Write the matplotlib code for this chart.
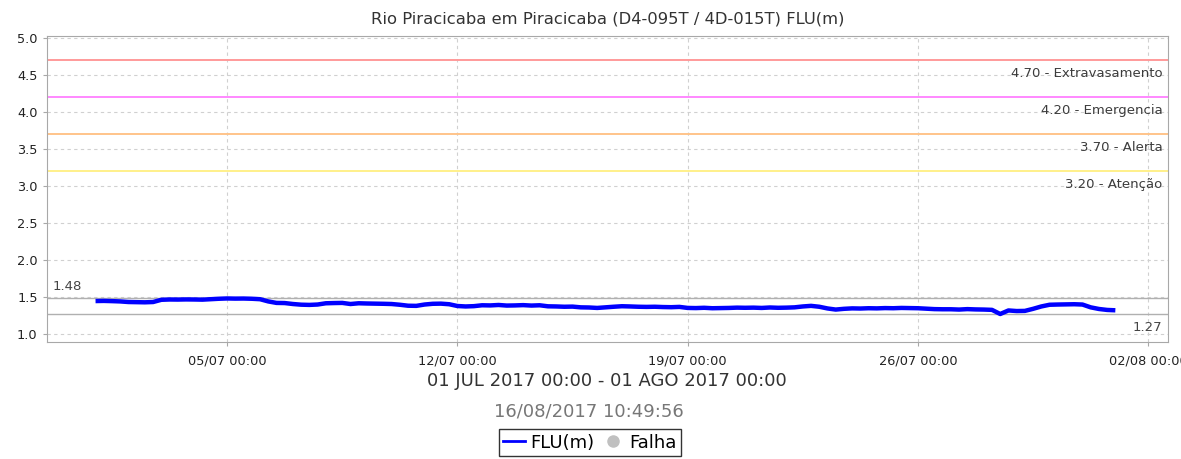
import numpy as np
import pandas as pd
import matplotlib
matplotlib.use('Agg')
import matplotlib.pyplot as plt
import matplotlib.dates as mdates
from matplotlib.lines import Line2D

# Nivel (FLU, m) a cada 6 horas, de 01/07/2017 00:00 a 01/08/2017 00:00
flu = [
    1.445, 1.447, 1.444, 1.440,  # 01/07
    1.432, 1.430, 1.428, 1.432,
    1.462, 1.466, 1.465, 1.467,
    1.466, 1.464, 1.470, 1.476,
    1.480, 1.478, 1.479, 1.476,  # 05/07
    1.470, 1.440, 1.420, 1.418,
    1.405, 1.396, 1.393, 1.398,
    1.415, 1.418, 1.420, 1.405,
    1.415, 1.412, 1.410, 1.408,
    1.405, 1.395, 1.382, 1.380,  # 10/07
    1.398, 1.408, 1.410, 1.402,
    1.378, 1.372, 1.376, 1.388,
    1.386, 1.392, 1.384, 1.386,
    1.390, 1.384, 1.388, 1.374,
    1.372, 1.368, 1.370, 1.360,  # 15/07
    1.358, 1.352, 1.360, 1.368,
    1.375, 1.372, 1.368, 1.366,
    1.368, 1.364, 1.362, 1.366,
    1.352, 1.350, 1.354, 1.348,
    1.350, 1.352, 1.356, 1.354,  # 20/07
    1.356, 1.352, 1.358, 1.354,
    1.356, 1.360, 1.372, 1.380,
    1.368, 1.345, 1.330, 1.340,
    1.346, 1.344, 1.348, 1.346,
    1.350, 1.348, 1.352, 1.350,  # 25/07
    1.348, 1.342, 1.336, 1.334,
    1.334, 1.330, 1.336, 1.332,
    1.330, 1.326, 1.270, 1.318,
    1.310, 1.312, 1.340, 1.372,
    1.395, 1.398, 1.400, 1.402,  # 30/07
    1.398, 1.360, 1.338, 1.325,
    1.320,                       # 01/08 00:00
]
tempo = pd.date_range('2017-07-01 00:00', periods=len(flu), freq='6h')

# Marcas do eixo de tempo
marcas = pd.to_datetime(['2017-07-05', '2017-07-12', '2017-07-19', '2017-07-26', '2017-08-02'])

# Cotas de referencia
cotas = [4.70, 4.20, 3.70, 3.20]
cotas_nome = ['Extravasamento', 'Emergencia', 'Alerta', 'Atenção']
cotas_cor = ['#ff9a9a', '#ff88ff', '#ffc48a', '#fff08a']

v_max = 1.48
v_min = 1.27

titulo = 'Rio Piracicaba em Piracicaba (D4-095T / 4D-015T) FLU(m)'
periodo = '01 JUL 2017 00:00 - 01 AGO 2017 00:00'
gerado = '16/08/2017 10:49:56'

fig = plt.figure(figsize=(11.81, 4.59), dpi=100)
ax = fig.add_axes([0.0395, 0.2556, 0.9495, 0.666])

x0 = pd.Timestamp('2017-06-29 12:20')
x1 = pd.Timestamp('2017-08-02 14:25')

for c, nome, cor in zip(cotas, cotas_nome, cotas_cor):
    ax.axhline(c, color=cor, lw=1.4, zorder=2)
    ax.annotate('%.2f - %s' % (c, nome), xy=(1, c), xycoords=('axes fraction', 'data'),
                xytext=(-4, -5), textcoords='offset points', ha='right', va='top',
                fontsize=9.5, color='#3c3c3c')

ax.axhline(v_max, color='#b0b0b0', lw=1.0, zorder=2)
ax.axhline(v_min, color='#b0b0b0', lw=1.0, zorder=2)
ax.annotate('%.2f' % v_max, xy=(0, v_max), xycoords=('axes fraction', 'data'),
            xytext=(4, 4), textcoords='offset points', ha='left', va='bottom',
            fontsize=9.5, color='#444444')
ax.annotate('%.2f' % v_min, xy=(1, v_min), xycoords=('axes fraction', 'data'),
            xytext=(-4, -5), textcoords='offset points', ha='right', va='top',
            fontsize=9.5, color='#444444')

ax.plot(tempo, flu, color='#0000ff', lw=3.2, zorder=3, solid_capstyle='butt')

ax.set_xlim(x0, x1)
ax.set_ylim(0.896, 5.027)
ax.set_yticks(np.arange(1.0, 5.01, 0.5))
ax.yaxis.set_major_formatter(plt.FormatStrFormatter('%.1f'))
ax.set_xticks(marcas)
ax.xaxis.set_major_formatter(mdates.DateFormatter('%d/%m %H:%M'))
ax.grid(True, color='#d0d0d0', ls=(0, (3, 3)), lw=0.8)
ax.set_axisbelow(True)
for s in ax.spines.values():
    s.set_color('#a8a8a8')
ax.tick_params(axis='both', colors='#a8a8a8', labelcolor='#222222', length=3,
               labelsize=9.3)
ax.tick_params(axis='x', pad=6)

ax.set_title(titulo, fontsize=11.8, color='#333333', pad=9)
fig.text(0.5135, 0.17, periodo, ha='center', va='center', fontsize=13, color='#333333')
fig.text(0.499, 0.104, gerado, ha='center', va='center', fontsize=13, color='#777777')

itens = [Line2D([], [], color='#0000ff', lw=2),
         Line2D([], [], color='#c0c0c0', marker='o', ls='none', markersize=8)]
leg = fig.legend(itens, ['FLU(m)', 'Falha'], loc='center', bbox_to_anchor=(0.4995, 0.0355),
                 ncol=2, fontsize=13, frameon=True, fancybox=False, handlelength=1.2,
                 handletextpad=0.3, columnspacing=0.4, borderpad=0.25, borderaxespad=0)
leg.get_frame().set_edgecolor('#000000')
leg.get_frame().set_linewidth(1.0)

fig.savefig('out.png', dpi=100)
